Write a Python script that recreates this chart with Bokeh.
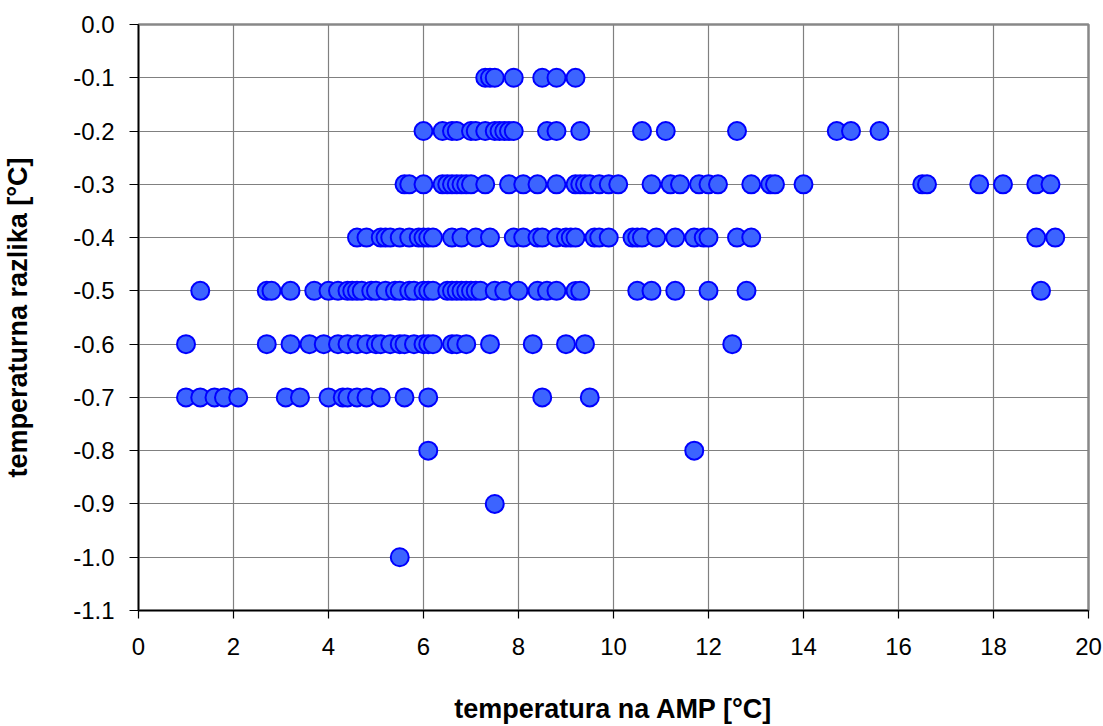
from bokeh.plotting import figure
from bokeh.models import FixedTicker, PrintfTickFormatter, Range1d, ColumnDataSource
from bokeh.embed import file_html
from bokeh.resources import INLINE

# x values (temperatura na AMP) for each temperature-difference level
row_m01 = [7.3, 7.4, 7.5, 7.9, 8.5, 8.8, 9.2]
row_m02 = [6.0, 6.4, 6.6, 6.7, 7.0, 7.1, 7.3, 7.5, 7.6, 7.7, 7.8, 7.9, 8.6, 8.8,
           9.3, 10.6, 11.1, 12.6, 14.7, 15.0, 15.6]
row_m03 = [5.6, 5.7, 6.0, 6.4, 6.5, 6.6, 6.7, 6.8, 6.9, 7.0, 7.3, 7.8, 8.1, 8.4,
           8.8, 9.2, 9.3, 9.4, 9.5, 9.7, 9.9, 10.1, 10.8, 11.2, 11.4, 11.8, 12.0,
           12.2, 12.9, 13.3, 13.4, 14.0, 16.5, 16.6, 17.7, 18.2, 18.9, 19.2]
row_m04 = [4.6, 4.8, 5.1, 5.2, 5.3, 5.5, 5.7, 5.9, 6.0, 6.1, 6.2, 6.6, 6.8, 7.1,
           7.4, 7.9, 8.1, 8.4, 8.5, 8.8, 9.0, 9.1, 9.2, 9.6, 9.7, 9.9, 10.4, 10.5,
           10.6, 10.9, 11.3, 11.7, 11.9, 12.0, 12.6, 12.9, 18.9, 19.3]
row_m05 = [1.3, 2.7, 2.8, 3.2, 3.7, 4.0, 4.2, 4.4, 4.5, 4.6, 4.7, 4.9, 5.0, 5.2,
           5.4, 5.5, 5.7, 5.8, 6.0, 6.1, 6.2, 6.5, 6.6, 6.7, 6.8, 6.9, 7.0, 7.1,
           7.2, 7.5, 7.7, 8.0, 8.4, 8.6, 8.8, 9.2, 9.3, 10.5, 10.8, 11.3, 12.0,
           12.8, 19.0]
row_m06 = [1.0, 2.7, 3.2, 3.6, 3.9, 4.2, 4.4, 4.6, 4.8, 5.0, 5.1, 5.3, 5.5, 5.6,
           5.8, 6.0, 6.1, 6.2, 6.6, 6.7, 6.9, 7.4, 8.3, 9.0, 9.4, 12.5]
row_m07 = [1.0, 1.3, 1.6, 1.8, 2.1, 3.1, 3.4, 4.0, 4.3, 4.4, 4.6, 4.8, 5.1, 5.6,
           6.1, 8.5, 9.5]
row_m08 = [6.1, 11.7]
row_m09 = [7.5]
row_m10 = [5.5]

levels = [-0.1, -0.2, -0.3, -0.4, -0.5, -0.6, -0.7, -0.8, -0.9, -1.0]
rows = [row_m01, row_m02, row_m03, row_m04, row_m05, row_m06, row_m07,
        row_m08, row_m09, row_m10]

x_ticks = [0, 2, 4, 6, 8, 10, 12, 14, 16, 18, 20]
y_ticks = [0.0, -0.1, -0.2, -0.3, -0.4, -0.5, -0.6, -0.7, -0.8, -0.9, -1.0, -1.1]

x_title = "temperatura na AMP [°C]"
y_title = "temperaturna razlika [°C]"

xs, ys = [], []
for lvl, r in zip(levels, rows):
    xs.extend(r)
    ys.extend([lvl] * len(r))
src = ColumnDataSource(dict(x=xs, y=ys))

FONT = "Liberation Sans"

p = figure(width=1103, height=726, output_backend="svg", toolbar_location=None,
           x_range=Range1d(0, 20), y_range=Range1d(-1.1, 0.0),
           min_border_left=137, min_border_right=15, min_border_top=24,
           min_border_bottom=115)
p.background_fill_color = "white"
p.border_fill_color = "white"
p.outline_line_color = "#888888"
p.outline_line_width = 2.5

p.scatter("x", "y", source=src, size=18, fill_color="#3c64ff",
          line_color="#0000ff", line_width=2)

p.xaxis.ticker = FixedTicker(ticks=x_ticks)
p.yaxis.ticker = FixedTicker(ticks=y_ticks)
p.yaxis.formatter = PrintfTickFormatter(format="%.1f")

for ax in (p.xaxis, p.yaxis):
    ax.axis_line_color = "black"
    ax.axis_line_width = 1.5
    ax.major_tick_line_color = "black"
    ax.major_tick_line_width = 1.2
    ax.major_tick_in = 0
    ax.minor_tick_line_color = None
    ax.major_label_text_font = FONT
    ax.major_label_text_font_size = "24px"
    ax.major_label_text_color = "black"
    ax.axis_label_text_font = FONT
    ax.axis_label_text_font_style = "bold"
    ax.axis_label_text_font_size = "27px"
    ax.axis_label_text_color = "black"
    ax.axis_label_text_line_height = 0.8

p.xaxis.major_tick_out = 8
p.xaxis.major_label_standoff = 19
p.xaxis.axis_label = x_title
p.xaxis.axis_label_standoff = 36

p.yaxis.major_tick_out = 9
p.yaxis.major_label_standoff = 15
p.yaxis.axis_label = y_title
p.yaxis.axis_label_standoff = 37

p.xgrid.ticker = FixedTicker(ticks=x_ticks)
p.ygrid.ticker = FixedTicker(ticks=y_ticks)
for g in (p.xgrid, p.ygrid):
    g.grid_line_color = "#808080"
    g.grid_line_width = 1.2

open("out.html", "w").write(file_html(p, INLINE))
